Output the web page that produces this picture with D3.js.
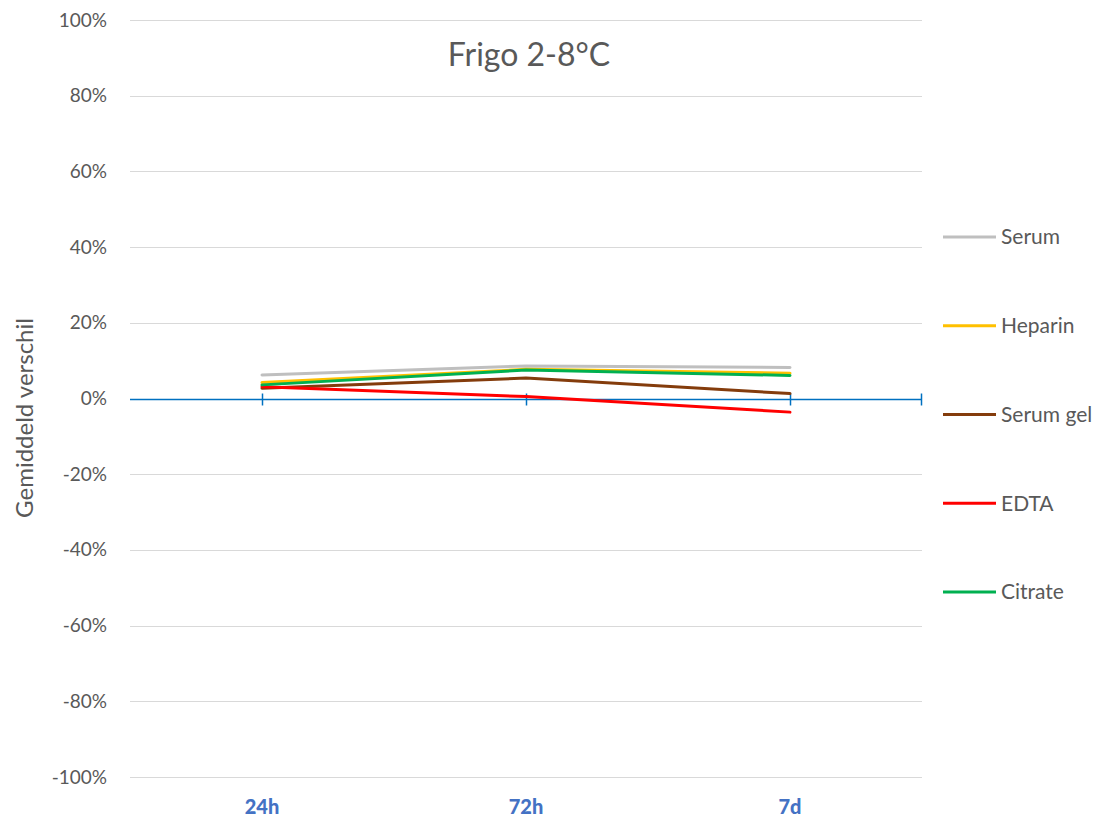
<!DOCTYPE html>
<html>
<head>
<meta charset="utf-8">
<script src="https://cdn.jsdelivr.net/npm/d3@7"></script>
<style>
  html, body { margin: 0; padding: 0; background: #fff; }
  svg { display: block; }
  text { font-family: Lato, "Open Sans", sans-serif; }
</style>
</head>
<body>
<div id="chart"></div>
<script>
// Storage time points
const categories = ["24h", "72h", "7d"];

// Mean difference (%) per tube type
const serumValues    = [6.2, 8.6, 8.2];
const heparinValues  = [4.2, 7.7, 6.7];
const serumGelValues = [2.7, 5.4, 1.3];
const edtaValues     = [3.1, 0.5, -3.6];
const citrateValues  = [3.6, 7.5, 6.1];

const seriesNames  = ["Serum", "Heparin", "Serum gel", "EDTA", "Citrate"];
const seriesColors = ["#BFBFBF", "#FFC000", "#843C0C", "#FF0000", "#00B050"];

const yTickValues = [100, 80, 60, 40, 20, 0, -20, -40, -60, -80, -100];

const series = [serumValues, heparinValues, serumGelValues, edtaValues, citrateValues]
  .map((values, i) => ({ name: seriesNames[i], color: seriesColors[i], values }));

const W = 1102, H = 822;
const plot = { left: 130, right: 922, top: 20, bottom: 777 };

const svg = d3.select("#chart").append("svg")
  .attr("width", W).attr("height", H);

const x = d3.scaleBand().domain(categories).range([plot.left, plot.right]);
const y = d3.scaleLinear().domain([-100, 100]).range([plot.bottom, plot.top]);
const xc = c => x(c) + x.bandwidth() / 2;

// Horizontal gridlines
svg.append("g")
  .selectAll("line")
  .data(yTickValues)
  .join("line")
  .attr("x1", plot.left).attr("x2", plot.right)
  .attr("y1", d => Math.round(y(d)) + 0.5).attr("y2", d => Math.round(y(d)) + 0.5)
  .attr("stroke", d => d === 0 ? "none" : "#D9D9D9")
  .attr("stroke-width", 1);

// Y axis tick labels
const yAxis = d3.axisLeft(y).tickValues(yTickValues).tickFormat(d => d + "%").tickSize(0).tickPadding(0);
svg.append("g")
  .attr("transform", `translate(${plot.left - 23},0)`)
  .call(yAxis)
  .call(g => g.select(".domain").remove())
  .call(g => g.selectAll("text")
    .attr("fill", "#595959")
    .attr("font-size", 19)
    .attr("font-family", "Lato, 'Open Sans', sans-serif"));

// Zero axis line with cross ticks
const zeroY = Math.round(y(0)) + 0.5;
const axisG = svg.append("g");
axisG.append("line")
  .attr("x1", plot.left).attr("x2", plot.right)
  .attr("y1", zeroY).attr("y2", zeroY)
  .attr("stroke", "#0070C0").attr("stroke-width", 1.5);
axisG.selectAll("line.tick")
  .data(categories.map(xc).concat([plot.right - 1]))
  .join("line")
  .attr("class", "tick")
  .attr("x1", d => Math.round(d) + 0.5).attr("x2", d => Math.round(d) + 0.5)
  .attr("y1", zeroY - 6).attr("y2", zeroY + 6)
  .attr("stroke", "#0070C0").attr("stroke-width", 1.5);

// X category labels
const xAxis = d3.axisBottom(x).tickSize(0).tickPadding(0);
svg.append("g")
  .attr("transform", `translate(0,${plot.bottom + 23})`)
  .call(xAxis)
  .call(g => g.select(".domain").remove())
  .call(g => g.selectAll("text")
    .attr("fill", "#4472C4")
    .attr("font-size", 20)
    .attr("font-weight", 900)
    .attr("font-family", "Lato, 'Open Sans', sans-serif"));

// Series lines
const line = d3.line()
  .x((d, i) => xc(categories[i]))
  .y(d => y(d));

svg.append("g")
  .selectAll("path")
  .data(series)
  .join("path")
  .attr("d", d => line(d.values))
  .attr("fill", "none")
  .attr("stroke", d => d.color)
  .attr("stroke-width", 3)
  .attr("stroke-linejoin", "round")
  .attr("stroke-linecap", "round");

// Title
svg.append("text")
  .attr("x", 529).attr("y", 66)
  .attr("text-anchor", "middle")
  .attr("fill", "#595959")
  .attr("font-size", 32)
  .text("Frigo 2-8°C");

// Y axis title
svg.append("text")
  .attr("transform", "translate(33,418) rotate(-90)")
  .attr("text-anchor", "middle")
  .attr("fill", "#595959")
  .attr("font-size", 24)
  .text("Gemiddeld verschil");

// Legend
const legendY = d3.scalePoint().domain(seriesNames).range([237, 592]);
const legend = svg.append("g")
  .selectAll("g")
  .data(series)
  .join("g")
  .attr("transform", d => `translate(943,${legendY(d.name)})`);
legend.append("line")
  .attr("x1", 0).attr("x2", 53)
  .attr("y1", 0).attr("y2", 0)
  .attr("stroke", d => d.color)
  .attr("stroke-width", 3);
legend.append("text")
  .attr("x", 58).attr("y", 0)
  .attr("dy", "0.35em")
  .attr("fill", "#595959")
  .attr("font-size", 21)
  .text(d => d.name);
</script>
</body>
</html>
